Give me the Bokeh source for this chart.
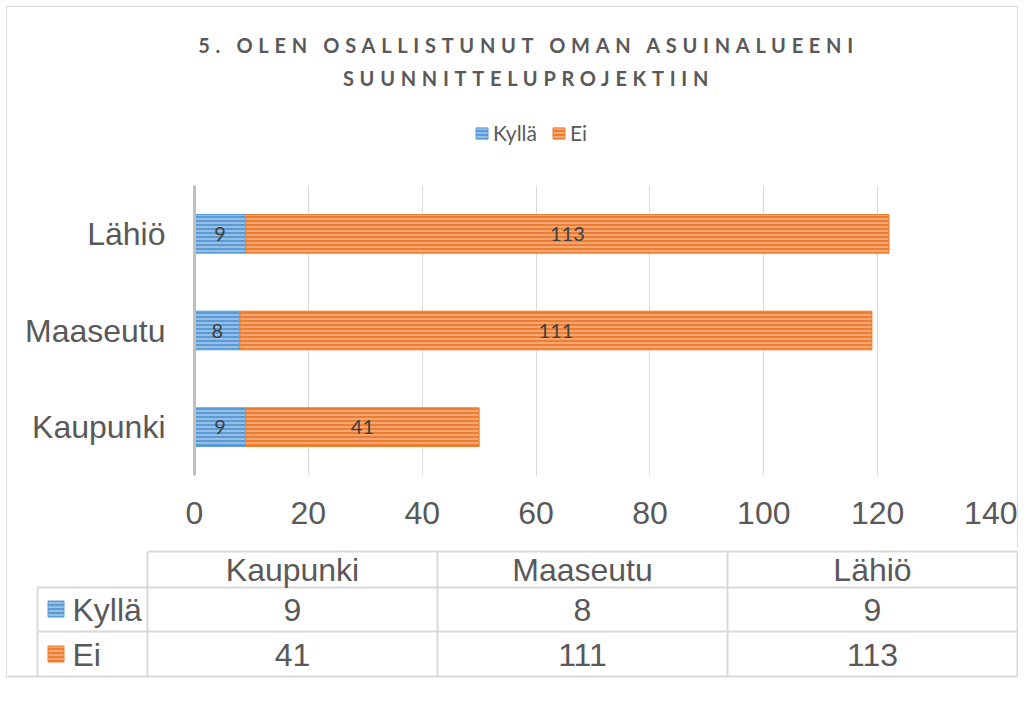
from bokeh.plotting import figure
from bokeh.models import (ColumnDataSource, Range1d, FactorRange, Legend, LegendItem,
                          Div, FixedTicker)
from bokeh.embed import file_html
from bokeh.resources import INLINE
from bokeh.core.properties import value

# ---------------- data ----------------
categories = ["Kaupunki", "Maaseutu", "Lähiö"]
kylla = [9, 8, 9]
ei = [41, 111, 113]
series_names = ["Kyllä", "Ei"]
x_ticks = [0, 20, 40, 60, 80, 100, 120, 140]
title_lines = ["5. OLEN OSALLISTUNUT OMAN ASUINALUEENI", "SUUNNITTELUPROJEKTIIN"]

# ---------------- style ----------------
BLUE = "#5b9bd5"
BLUE_H = "#a8cbee"
ORANGE = "#ed7d31"
ORANGE_H = "#f6b58c"
TEXT = "#595959"
GRID = "#d9d9d9"
AXIS = "#bfbfbf"
W = 1011
BORDER = "1px solid #d9d9d9"
SIDE_SHADOW = "-1px 0 0 #d9d9d9, 1px 0 0 #d9d9d9"
BAR_STYLE = [
    dict(fill_color=BLUE, line_color=BLUE, hatch_pattern="horizontal_line",
         hatch_color=BLUE_H, hatch_scale=4, hatch_weight=1.5),
    dict(fill_color=ORANGE, line_color=ORANGE, hatch_pattern="horizontal_line",
         hatch_color=ORANGE_H, hatch_scale=4, hatch_weight=1.5),
]

# ---------------- title ----------------
title_div = Div(
    text=('<div style="width:%dpx;box-sizing:border-box;padding-left:32px;padding-top:22px;'
          'text-align:center;font-family:Lato;font-weight:bold;font-size:20px;'
          'letter-spacing:5.7px;line-height:33px;color:%s;white-space:nowrap;">%s<br>%s</div>')
    % (W, TEXT, title_lines[0], title_lines[1]),
    width=W + 1, height=93, margin=(6, 0, 0, 6),
    styles={"border-top": BORDER, "border-left": BORDER, "border-right": BORDER,
            "box-sizing": "border-box", "overflow": "visible"})

# ---------------- legend strip ----------------
lg = figure(width=W - 1, height=61, x_range=Range1d(0, 1), y_range=Range1d(0, 1),
            output_backend="svg", toolbar_location=None, x_axis_type=None, y_axis_type=None,
            min_border=0, min_border_left=0, min_border_right=0, min_border_top=0,
            min_border_bottom=0, margin=(0, 0, 0, 7), styles={"box-shadow": SIDE_SHADOW})
lg.outline_line_color = None
lg.xgrid.visible = False
lg.ygrid.visible = False
# legend-only renderers (placed outside the visible range)
lrs = [lg.hbar(y=[-10], left=[0], right=[1], height=0.4, **BAR_STYLE[i]) for i in range(2)]
legend = Legend(items=[LegendItem(label=series_names[i], renderers=[lrs[i]]) for i in range(2)],
                location=(467, 15), orientation="horizontal",
                glyph_width=15, glyph_height=14, label_standoff=4, spacing=14,
                padding=0, margin=0, border_line_color=None, background_fill_alpha=0,
                label_text_font="Lato", label_text_font_size="21px",
                label_text_color=TEXT)
lg.add_layout(legend, "center")

# ---------------- chart ----------------
src = ColumnDataSource(dict(
    cat=categories,
    k_left=[0] * len(kylla), k_right=kylla,
    e_left=kylla, e_right=[a + b for a, b in zip(kylla, ei)],
    k_mid=[a / 2 for a in kylla],
    e_mid=[a + b / 2 for a, b in zip(kylla, ei)],
    k_txt=[str(v) for v in kylla], e_txt=[str(v) for v in ei],
))

p = figure(width=W - 1, height=388, y_range=FactorRange(*categories), x_range=Range1d(0, 140),
           output_backend="svg", toolbar_location=None,
           min_border_left=187, min_border_right=26, min_border_top=25, min_border_bottom=73,
           margin=(0, 0, 0, 7), styles={"box-shadow": SIDE_SHADOW})
p.outline_line_color = None

p.hbar(y="cat", left="k_left", right="k_right", height=0.4, source=src, **BAR_STYLE[0])
p.hbar(y="cat", left="e_left", right="e_right", height=0.4, source=src, **BAR_STYLE[1])

for xcol, tcol in (("k_mid", "k_txt"), ("e_mid", "e_txt")):
    p.text(x=xcol, y="cat", text=tcol, source=src, text_align="center",
           text_baseline="middle", text_font=value("Lato"), text_font_size="20px",
           text_color="#404040")

p.xaxis.ticker = FixedTicker(ticks=x_ticks)
p.xaxis.axis_line_color = None
p.xaxis.major_tick_line_color = None
p.xaxis.minor_tick_line_color = None
p.xaxis.major_label_text_font = "Liberation Sans"
p.xaxis.major_label_text_font_size = "32px"
p.xaxis.major_label_text_color = TEXT
p.xaxis.major_label_standoff = 20

p.yaxis.axis_line_color = AXIS
p.yaxis.axis_line_width = 3
p.yaxis.major_tick_line_color = None
p.yaxis.minor_tick_line_color = None
p.yaxis.major_label_text_font = "Liberation Sans"
p.yaxis.major_label_text_font_size = "32px"
p.yaxis.major_label_text_color = TEXT
p.yaxis.major_label_standoff = 23

p.xgrid.grid_line_color = GRID
p.xgrid.grid_line_width = 1
p.ygrid.grid_line_color = None

# ---------------- table ----------------
UNIT = 290.0          # px per category column
t_left_px = 7         # page x of figure's left edge
col0_px = 147         # page x where first category column starts
t = figure(width=W, height=130,
           x_range=Range1d((t_left_px - col0_px) / UNIT, (t_left_px + W - col0_px) / UNIT),
           y_range=Range1d(130, 0),
           output_backend="svg", toolbar_location=None, x_axis_type=None, y_axis_type=None,
           min_border=0, min_border_left=0, min_border_right=0, min_border_top=0,
           min_border_bottom=0, margin=(0, 0, 0, 7),
           styles={"box-shadow": "-1px 0 0 #d9d9d9"})
t.outline_line_color = None
t.xgrid.visible = False
t.ygrid.visible = False

n = len(categories)
left_edge = (37 - col0_px) / UNIT
row_top, row_h1, row_h2, row_bot = 3, 39, 83, 128
# horizontal lines
t.segment(x0=[0, left_edge, left_edge, -1], x1=[n, n, n, n + 1],
          y0=[row_top, row_h1, row_h2, row_bot], y1=[row_top, row_h1, row_h2, row_bot],
          line_color=GRID, line_width=2)
# vertical lines
t.segment(x0=[left_edge] + list(range(n + 1)), x1=[left_edge] + list(range(n + 1)),
          y0=[row_h1] + [row_top] * (n + 1), y1=[row_bot] * (n + 2),
          line_color=GRID, line_width=2)

tsrc = ColumnDataSource(dict(
    x=[i + 0.5 for i in range(n)], cat=categories,
    k=[str(v) for v in kylla], e=[str(v) for v in ei],
))
common = dict(text_align="center", text_baseline="middle", text_font=value("Liberation Sans"),
              text_font_size="32px", text_color=TEXT, source=tsrc)
t.text(x="x", y=21, text="cat", **common)
t.text(x="x", y=61, text="k", **common)
t.text(x="x", y=106, text="e", **common)

sq_x = (55.5 - col0_px) / UNIT
lbl_x = (72 - col0_px) / UNIT
for i, yy in enumerate((60.5, 105.5)):
    t.rect(x=[sq_x], y=[yy], width=16, height=16, width_units="screen",
           height_units="screen", **BAR_STYLE[i])
t.text(x=[lbl_x, lbl_x], y=[61, 106], text=series_names, text_align="left",
       text_baseline="middle", text_font=value("Liberation Sans"), text_font_size="32px",
       text_color=TEXT)

open("out.html", "w").write(file_html([title_div, lg, p, t], INLINE))
